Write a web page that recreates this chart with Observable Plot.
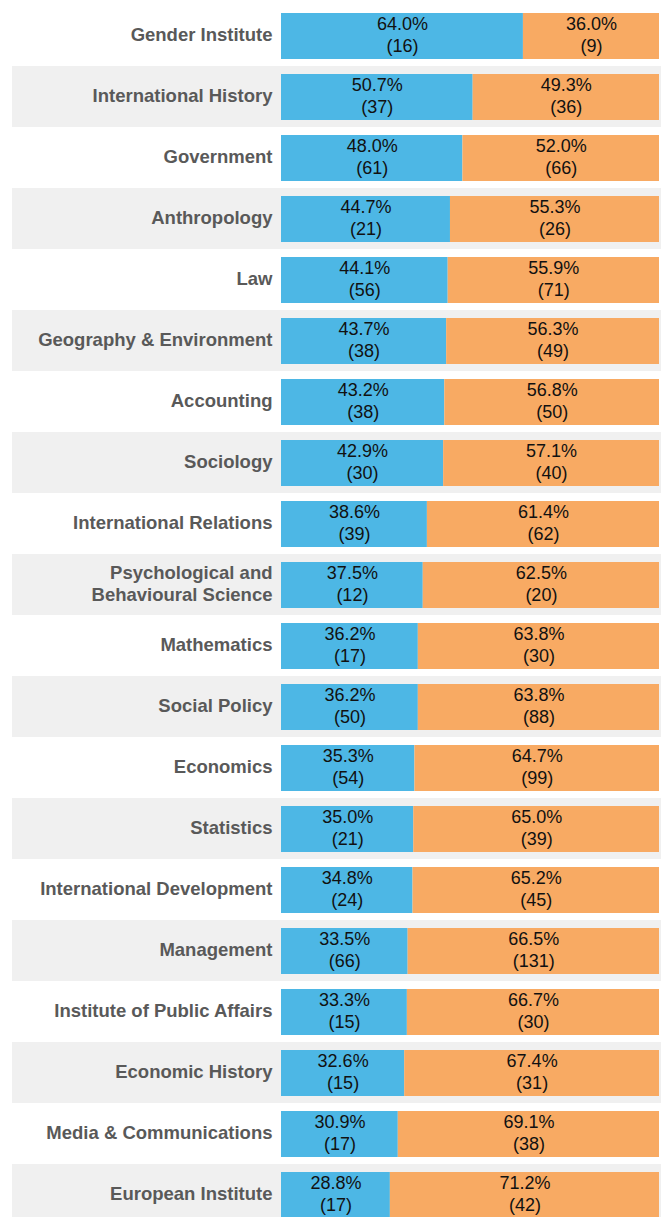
<!DOCTYPE html>
<html>
<head>
<meta charset="utf-8">
<script src="https://cdn.jsdelivr.net/npm/d3@7"></script>
<script src="https://cdn.jsdelivr.net/npm/@observablehq/plot@0.6"></script>
<style>
  html, body { margin: 0; padding: 0; background: #fff; overflow: hidden; }
</style>
</head>
<body>
<div id="chart"></div>
<script>
const categories = [
  "Gender Institute", "International History", "Government", "Anthropology", "Law",
  "Geography & Environment", "Accounting", "Sociology", "International Relations",
  "Psychological and\nBehavioural Science", "Mathematics", "Social Policy", "Economics",
  "Statistics", "International Development", "Management", "Institute of Public Affairs",
  "Economic History", "Media & Communications", "European Institute"
];
const bluePct = [64.0, 50.7, 48.0, 44.7, 44.1, 43.7, 43.2, 42.9, 38.6, 37.5, 36.2, 36.2, 35.3, 35.0, 34.8, 33.5, 33.3, 32.6, 30.9, 28.8];
const blueCount = [16, 37, 61, 21, 56, 38, 38, 30, 39, 12, 17, 50, 54, 21, 24, 66, 15, 15, 17, 17];
const orangePct = [36.0, 49.3, 52.0, 55.3, 55.9, 56.3, 56.8, 57.1, 61.4, 62.5, 63.8, 63.8, 64.7, 65.0, 65.2, 66.5, 66.7, 67.4, 69.1, 71.2];
const orangeCount = [9, 36, 66, 26, 71, 49, 50, 40, 62, 20, 30, 88, 99, 39, 45, 131, 30, 31, 38, 42];
const groups = ["first", "second"];
const colors = ["#4db7e5", "#f8aa63"];

const rows = [];
categories.forEach((c, i) => {
  rows.push({name: c, group: groups[0], x1: 0, x2: bluePct[i], pct: bluePct[i], n: blueCount[i]});
  rows.push({name: c, group: groups[1], x1: bluePct[i], x2: bluePct[i] + orangePct[i], pct: orangePct[i], n: orangeCount[i]});
});
const shaded = categories.filter((c, i) => i % 2 === 1);

const font = "'Liberation Sans', Arial, Helvetica, sans-serif";

const chart = Plot.plot({
  width: 661,
  height: 1217,
  marginLeft: 281,
  marginRight: 2,
  marginTop: 5,
  marginBottom: 0,
  style: {fontFamily: font, background: "#fff"},
  x: {domain: [0, 100], axis: null},
  y: {domain: categories, range: [5, 1225], padding: 0, label: null},
  color: {domain: groups, range: colors},
  marks: [
    Plot.cell(shaded, {y: d => d, fill: "#f0f0f0", insetLeft: -269, insetRight: -2}),
    Plot.barX(rows, {y: "name", x1: "x1", x2: "x2", fill: "group", insetTop: 8, insetBottom: 7}),
    Plot.text(rows, {
      y: "name",
      x: d => (d.x1 + d.x2) / 2,
      text: d => `${d.pct.toFixed(1)}%\n(${d.n})`,
      fontSize: 18,
      lineHeight: 1.2,
      dy: -2,
      fill: "#111"
    }),
    Plot.axisY({
      tickSize: 0,
      tickPadding: 9,
      fontSize: 18.5,
      fontWeight: "bold",
      fill: "#595959",
      lineHeight: 1.2,
      dy: -2,
      label: null
    })
  ]
});
document.getElementById("chart").appendChild(chart);
</script>
</body>
</html>
